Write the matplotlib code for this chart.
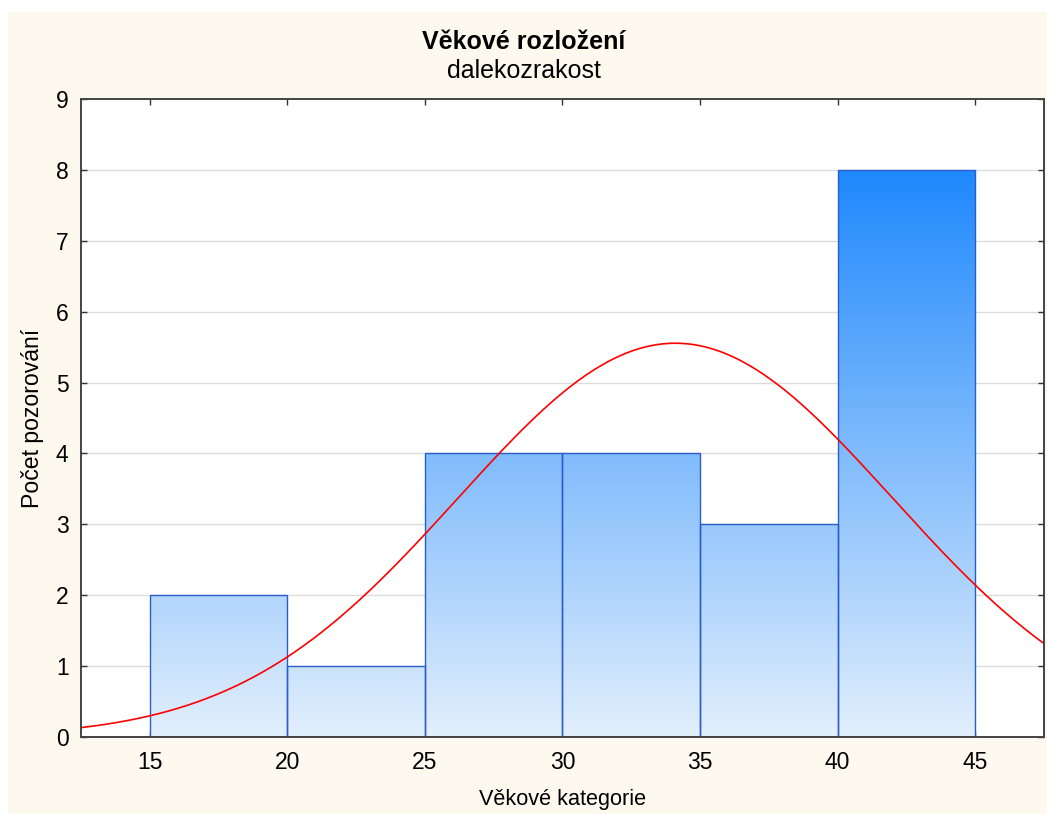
import numpy as np
import matplotlib
matplotlib.use("Agg")
import matplotlib.pyplot as plt
from matplotlib.colors import LinearSegmentedColormap
from matplotlib.patches import Rectangle

plt.rcParams['font.family'] = ['Liberation Sans', 'DejaVu Sans']

# Age bins (left edges, width 5) and observed counts
bin_left = [15, 20, 25, 30, 35, 40]
bin_width = 5
counts = [2, 1, 4, 4, 3, 8]

# Fitted normal curve parameters
fit_mean = 34.1
fit_sd = 7.9

x_ticks = [15, 20, 25, 30, 35, 40, 45]
y_ticks = [0, 1, 2, 3, 4, 5, 6, 7, 8, 9]

title = "Věkové rozložení"
subtitle = "dalekozrakost"
xlabel = "Věkové kategorie"
ylabel = "Počet pozorování"

fig = plt.figure(figsize=(10.47, 8.14), dpi=100)
fig.patch.set_facecolor("white")
fig.patches.append(Rectangle((8 / 1047, 0), 1 - 8 / 1047, 1 - 12 / 814,
                             transform=fig.transFigure, facecolor="#fdf9ee",
                             edgecolor="none", zorder=-10))

ax = fig.add_axes([81 / 1047, 1 - 737 / 814, (1044 - 81) / 1047, (737 - 99) / 814])
ax.set_facecolor("white")
ax.set_xlim(12.5, 47.5)
ax.set_ylim(0, 9)

for y in y_ticks[1:-1]:
    ax.axhline(y, color="#dcdcdc", lw=1, zorder=1)

cmap = LinearSegmentedColormap.from_list("bluegrad", ["#e2effd", "#1e88fc"])
grad = np.linspace(0, 1, 256).reshape(-1, 1)
top_val = max(counts)
for left, c in zip(bin_left, counts):
    im = ax.imshow(grad * top_val, cmap=cmap, vmin=0, vmax=top_val,
                   extent=(0, 1, 0, top_val), origin="lower", aspect="auto",
                   interpolation="bilinear", zorder=2)
    im.set_extent((left, left + bin_width, 0, top_val))
    rect = Rectangle((left, 0), bin_width, c, facecolor="none",
                     edgecolor="#2a5ccc", lw=1.0, zorder=3)
    ax.add_patch(rect)
    im.set_clip_path(rect)

xs = np.linspace(12.5, 47.5, 400)
n_obs = sum(counts)
ys = n_obs * bin_width / (fit_sd * np.sqrt(2 * np.pi)) * np.exp(-0.5 * ((xs - fit_mean) / fit_sd) ** 2)
ax.plot(xs, ys, color="#ff0000", lw=1.2, zorder=4)

ax.set_xticks(x_ticks)
ax.set_yticks(y_ticks)
ax.tick_params(direction="in", length=4, width=1, labelsize=16.5, color="#333333",
               top=True, right=True)
ax.tick_params(axis="x", pad=10)
ax.tick_params(axis="y", pad=9)
for s in ax.spines.values():
    s.set_color("#444444")
    s.set_linewidth(1.4)
    s.set_zorder(5)

fig.text(0.5, 1 - 42 / 814, title, ha="center", va="center", fontsize=18, fontweight="bold")
fig.text(0.5, 1 - 71 / 814, subtitle, ha="center", va="center", fontsize=18)
fig.text((81 + 1044) / 2 / 1047, 1 - 800 / 814, xlabel, ha="center", va="center", fontsize=15.6)
fig.text(33 / 1047, 1 - 418 / 814, ylabel, ha="center", va="center", rotation=90, fontsize=16.6)

fig.savefig("out.png", dpi=100, facecolor=fig.get_facecolor())
